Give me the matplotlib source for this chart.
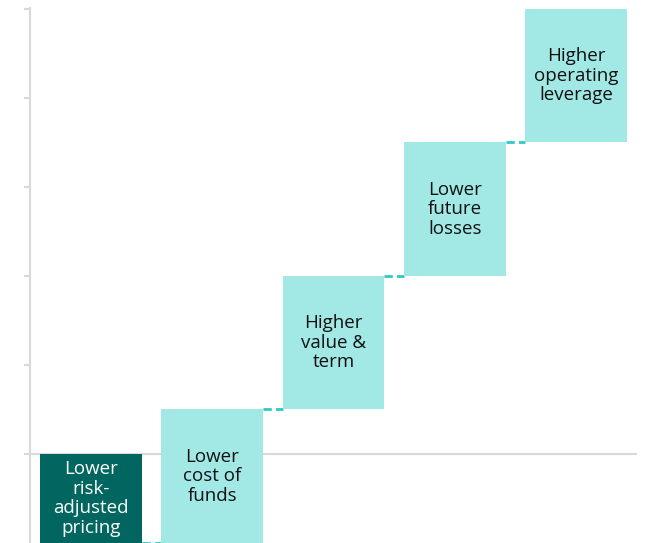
import matplotlib.pyplot as plt

labels = ["Lower\nrisk-\nadjusted\npricing", "Lower\ncost of\nfunds", "Higher\nvalue &\nterm",
          "Lower\nfuture\nlosses", "Higher\noperating\nleverage"]
starts = [0.0, -1.0, 0.5, 2.0, 3.5]
ends = [-1.0, 0.5, 2.0, 3.5, 5.0]
colors = ["#00665f", "#a2e9e6", "#a2e9e6", "#a2e9e6", "#a2e9e6"]
text_colors = ["white", "#111111", "#111111", "#111111", "#111111"]

fig = plt.figure(figsize=(6.46, 5.43), dpi=100)
ax = fig.add_axes([30 / 646, 0, 607 / 646, 535 / 543])

width = 0.84
x = list(range(len(labels)))
for i in x:
    ax.bar(i, ends[i] - starts[i], bottom=starts[i], width=width, color=colors[i], zorder=2)
    ax.text(i, (starts[i] + ends[i]) / 2, labels[i], ha="center", va="center",
            fontsize=13.5, color=text_colors[i], family="Open Sans", linespacing=1.12, zorder=3)
    if i < len(labels) - 1:
        ax.plot([i + width / 2, i + 1 - width / 2], [ends[i], ends[i]], linestyle=(0, (3, 1.5)),
                color="#2ec9c9", linewidth=2, zorder=1, clip_on=False)

ax.axhline(0, color="#d9d9d9", linewidth=1.5, zorder=1)
ax.set_xlim(-0.5, 4.5)
ax.set_ylim(-1.0, 5.01)
ax.set_yticks([0, 1, 2, 3, 4, 5])
ax.set_yticklabels([])
ax.set_xticks([])
ax.tick_params(axis="y", color="#d9d9d9", length=4, width=1.5)
for s in ["top", "right", "bottom"]:
    ax.spines[s].set_visible(False)
ax.spines["left"].set_color("#d9d9d9")
ax.spines["left"].set_linewidth(1.5)

fig.savefig("out.png", dpi=100)
